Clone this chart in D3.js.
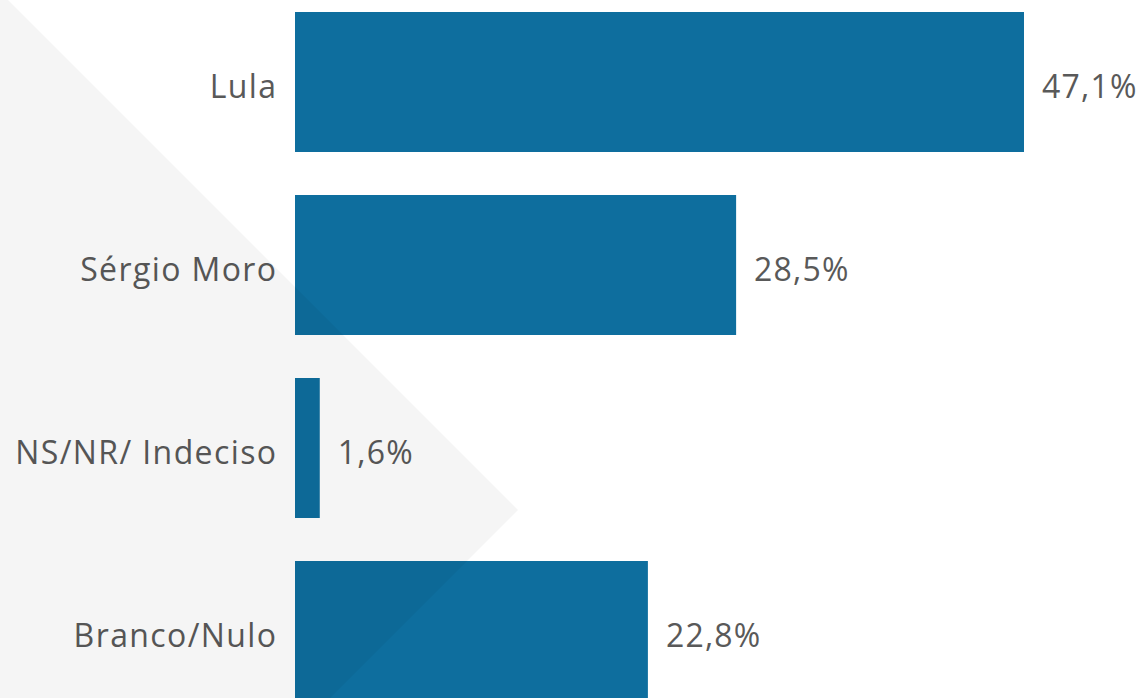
<!DOCTYPE html>
<html>
<head>
<meta charset="utf-8">
<script src="https://cdn.jsdelivr.net/npm/d3@7"></script>
<style>
  html, body { margin: 0; padding: 0; background: #fff; }
  svg { display: block; }
</style>
</head>
<body>
<script>
const categories = ['Lula', 'Sérgio Moro', 'NS/NR/ Indeciso', 'Branco/Nulo']
const values = [47.1, 28.5, 1.6, 22.8]
const xMax = 47.1

const width = 1143,
  height = 698

const svg = d3.select('body').append('svg')
  .attr('width', width)
  .attr('height', height)

const x = d3.scaleLinear().domain([0, xMax]).range([295, 1024])
const y = d3.scaleBand().domain(categories).range([12, 701])
  .paddingInner(0.235).paddingOuter(0)

const fmt = (v) => d3.format('.1f')(v).replace('.', ',') + '%'

const rows = categories.map((c, i) => ({ name: c, value: values[i] }))

// bars
svg.append('g').selectAll('rect')
  .data(rows)
  .join('rect')
  .attr('x', x(0))
  .attr('y', (d) => y(d.name))
  .attr('width', (d) => x(d.value) - x(0))
  .attr('height', y.bandwidth())
  .attr('fill', '#0e6e9e')

// category labels (letter-spacing adds a trailing gap, so shift right by it)
svg.append('g').selectAll('text')
  .data(rows)
  .join('text')
  .attr('x', x(0) - 17.5)
  .attr('y', (d) => y(d.name) + y.bandwidth() / 2 + 16)
  .attr('text-anchor', 'end')
  .attr('font-family', 'Open Sans')
  .attr('font-size', 32)
  .attr('letter-spacing', 1.4)
  .attr('fill', '#595959')
  .text((d) => d.name)

// value labels
svg.append('g').selectAll('text')
  .data(rows)
  .join('text')
  .attr('x', (d) => x(d.value) + 18)
  .attr('y', (d) => y(d.name) + y.bandwidth() / 2 + 16)
  .attr('font-family', 'Open Sans')
  .attr('font-size', 32)
  .attr('letter-spacing', 1.2)
  .attr('fill', '#595959')
  .text((d) => fmt(d.value))

// light grey arrow shape over the left side
svg.append('path')
  .attr('d', 'M0,0L8,0L518,510L330,698L0,698Z')
  .attr('fill', '#000')
  .attr('fill-opacity', 0.038)
  .attr('pointer-events', 'none')
</script>
</body>
</html>
